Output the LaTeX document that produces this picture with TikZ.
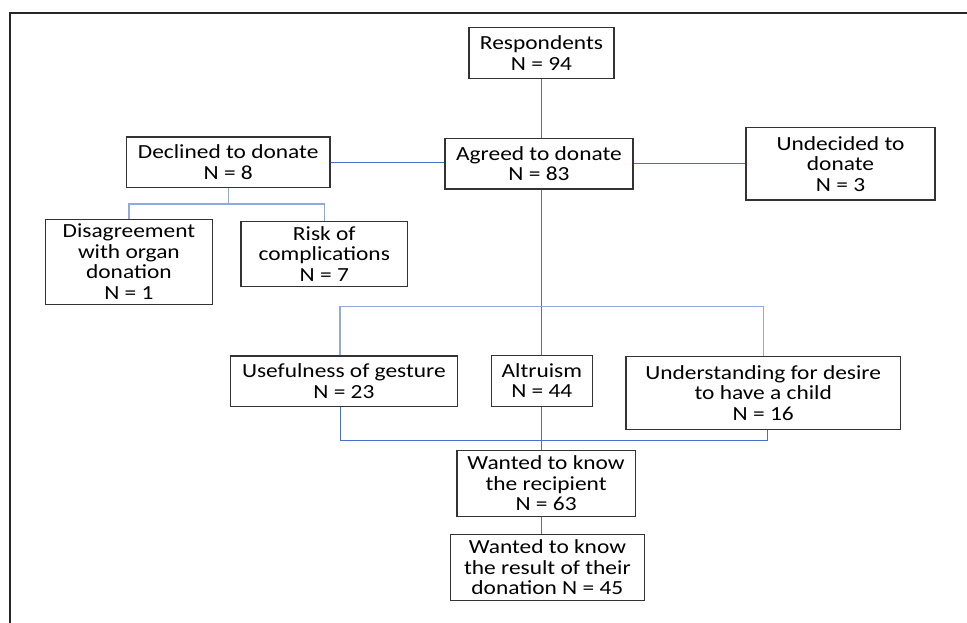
\documentclass[tikz,border=0pt]{standalone}
\usepackage{fontspec}
\setmainfont{Carlito}[FakeStretch=1.17]
\usepackage{tikz}
\usetikzlibrary{calc}

\definecolor{trunkblue}{HTML}{4472C4}
\definecolor{branchblue}{HTML}{8FAADC}

\begin{document}
\begin{tikzpicture}[x=1pt,y=-1pt,inner sep=0pt,
  box/.style={draw=black!80,line width=1.1pt,align=center,font=\fontsize{20}{20.5}\selectfont},
  trunk/.style={draw=trunkblue,line width=1pt},
  branch/.style={draw=branchblue,line width=1.4pt}]
\useasboundingbox (0,0) rectangle (967,623);
\draw [line width=2pt,black!85] (10,623) -- (10,13) -- (967,13);

\node [box,minimum width=145,minimum height=50.6] (R) at (541.5,53) {Respondents\\N = 94};
\node [box,minimum width=188,minimum height=50.7] (A) at (539,163.7) {Agreed to donate\\N = 83};
\node [box,minimum width=203.6,minimum height=50.3] (D) at (228.2,162.2) {Declined to donate\\N = 8};
\node [box,minimum width=189,minimum height=72.7] (U) at (840.5,163.7) {Undecided to\\donate\\N = 3};
\node [box,minimum width=166.6,minimum height=85.3] (D1) at (128.9,261.7) {Disagreement\\with organ\\donation\\N = 1};
\node [box,minimum width=166.6,minimum height=65.4] (D2) at (324.3,254) {Risk of\\complications\\N = 7};
\node [box,minimum width=226.3,minimum height=50.7] (M1) at (343.9,381.3) {Usefulness of gesture\\N = 23};
\node [box,minimum width=100.5,minimum height=50.7] (M2) at (541.8,380.7) {Altruism\\N = 44};
\node [box,minimum width=274.4,minimum height=73.3] (M3) at (763.2,392.7) {Understanding for desire\\to have a child\\N = 16};
\node [box,minimum width=178.2,minimum height=65.6] (W1) at (546.1,483.5) {Wanted to know\\the recipient\\N = 63};
\node [box,minimum width=194.3,minimum height=65.7] (W2) at (547.4,567.2) {Wanted to know\\the result of their\\donation N = 45};

% junctions
\coordinate (dj) at (228.2,204);
\coordinate (aj) at (541.5,306.7);
\coordinate (mj) at (541.5,440.3);

\draw [trunk] (R.south) -- (R.south |- A.north);
\draw [trunk] (D.east) -- (D.east -| A.west);
\draw [trunk] (A.east) -- (A.east -| U.west);
\draw [branch] (D.south) -- (dj);
\draw [branch] (D1.north) |- (dj) -| (D2.north);
\draw [trunk] (R.south |- A.south) -- (R.south |- M2.north);
\draw [branch] ([xshift=-4pt]M1.north) |- (aj) -| (M3.north);
\draw [trunk] ([xshift=-3pt]M1.south) |- (mj) -| ([xshift=4pt]M3.south);
\draw [trunk] (mj |- M2.south) -- (mj |- W1.north);
\draw [trunk] (mj |- W1.south) -- (mj |- W2.north);
\end{tikzpicture}
\end{document}
